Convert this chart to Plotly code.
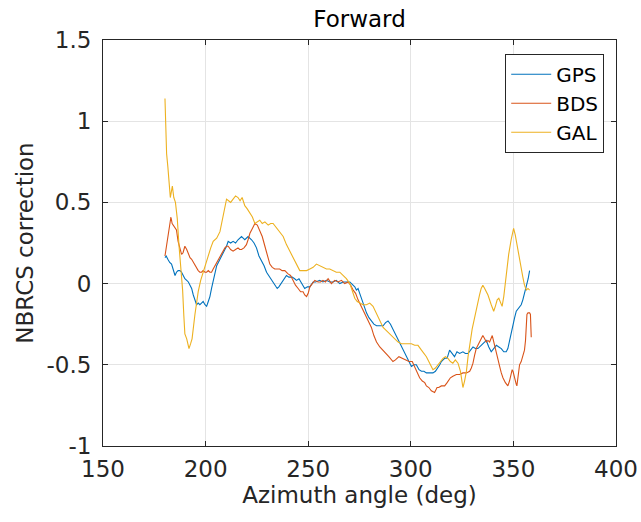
import plotly.graph_objects as go

# ---------------- data ----------------
gps_x = [180.2,180.8,181.6,182.5,183.4,184.2,185.1,185.8,186.6,187.5,188.3,189.1,189.9,190.8,191.6,192.4,193.2,194.0,194.8,195.6,196.4,197.2,198.0,198.8,199.7,200.5,201.3,202.1,202.9,203.7,204.6,205.4,206.2,207.0,208.2,209.4,210.2,211.0,212.2,213.4,214.6,215.8,217.5,218.3,219.1,220.7,221.6,222.4,223.6,224.8,226.0,227.3,228.5,229.7,231.3,232.9,234.1,234.9,235.7,237.3,238.6,239.4,240.6,242.2,243.4,244.3,245.5,246.7,248.3,249.6,250.8,252.4,253.6,255.6,257.2,258.9,260.5,262.1,263.7,265.4,267.0,268.6,270.3,271.1,272.7,273.5,274.3,275.1,275.9,277.2,278.4,279.6,280.8,282.0,283.3,284.9,286.5,287.7,288.9,290.1,291.3,292.2,293.0,294.2,295.4,296.6,297.9,299.1,300.3,301.5,302.7,304.0,305.2,306.4,307.6,309.2,310.8,312.0,313.2,314.1,314.9,316.5,317.7,318.9,320.1,321.3,322.5,323.8,325.4,326.6,327.9,329.1,330.3,331.5,332.7,334.3,335.1,336.0,336.8,338.0,339.2,340.4,341.7,342.9,344.1,345.3,346.5,347.3,348.1,349.0,349.8,350.6,351.4,352.6,353.8,354.6,355.4,356.0,356.6,357.2,357.9]
gps_y = [0.16,0.17,0.15,0.13,0.12,0.09,0.05,0.07,0.08,0.08,0.07,0.05,0.03,0.02,0.01,-0.01,-0.03,-0.07,-0.10,-0.13,-0.12,-0.13,-0.12,-0.11,-0.13,-0.14,-0.11,-0.08,-0.03,0.02,0.07,0.11,0.13,0.15,0.17,0.20,0.23,0.26,0.25,0.26,0.25,0.27,0.29,0.28,0.27,0.29,0.28,0.27,0.25,0.22,0.17,0.14,0.11,0.07,0.04,0.01,-0.02,-0.03,-0.02,0.01,0.04,0.05,0.04,0.04,0.03,0.02,0.03,0.00,-0.03,-0.02,-0.02,0.01,0.01,0.02,0.01,0.02,0.01,0.01,0.02,0.00,0.01,0.01,0.01,0.00,-0.02,-0.04,-0.03,-0.06,-0.09,-0.14,-0.18,-0.21,-0.23,-0.25,-0.26,-0.26,-0.26,-0.24,-0.23,-0.25,-0.28,-0.31,-0.33,-0.36,-0.39,-0.42,-0.45,-0.48,-0.51,-0.50,-0.50,-0.53,-0.54,-0.54,-0.55,-0.55,-0.55,-0.54,-0.52,-0.50,-0.48,-0.46,-0.46,-0.41,-0.43,-0.45,-0.42,-0.43,-0.42,-0.43,-0.43,-0.41,-0.39,-0.40,-0.40,-0.38,-0.37,-0.36,-0.35,-0.39,-0.42,-0.40,-0.38,-0.39,-0.40,-0.42,-0.42,-0.40,-0.35,-0.30,-0.25,-0.21,-0.17,-0.15,-0.13,-0.10,-0.06,-0.04,0.00,0.03,0.08]

bds_x = [180.2,180.6,181.0,181.7,182.3,183.1,183.7,184.2,185.0,185.8,186.6,187.5,188.3,189.0,189.9,190.8,191.6,192.4,193.2,194.0,194.8,195.6,196.4,197.2,198.0,198.8,199.7,200.5,201.3,202.1,202.9,203.7,204.6,205.4,206.6,207.8,208.6,209.4,210.2,211.0,212.2,213.4,214.6,215.8,216.6,217.5,218.7,219.9,220.7,221.6,222.8,224.0,225.2,226.4,227.6,228.9,230.1,231.3,232.5,233.7,234.9,236.1,237.3,238.6,240.2,241.4,242.6,243.8,245.1,246.3,247.5,248.3,249.2,250.0,250.8,252.0,253.2,254.8,256.0,257.2,258.4,259.7,261.3,262.9,264.5,266.2,267.8,269.4,270.7,271.9,273.1,274.3,275.5,276.7,277.6,278.4,279.6,280.8,282.0,283.3,284.9,287.3,289.3,291.3,292.5,294.2,295.8,297.4,299.1,300.7,301.9,303.1,304.3,305.6,306.8,307.6,308.8,310.0,311.6,312.8,313.6,314.9,316.5,317.7,319.3,320.5,322.2,323.8,325.4,327.1,328.7,329.5,330.3,331.1,331.9,332.7,333.5,335.1,336.0,336.8,337.6,338.4,339.7,340.4,341.2,342.1,343.3,344.1,344.9,346.1,347.3,348.1,348.5,349.4,349.8,350.6,351.4,351.7,352.2,353.0,353.8,354.6,355.4,355.9,356.3,356.6,357.1,357.9,358.3,358.7]
bds_y = [0.17,0.20,0.24,0.30,0.35,0.41,0.37,0.36,0.35,0.33,0.26,0.21,0.18,0.19,0.23,0.21,0.18,0.16,0.15,0.13,0.12,0.09,0.08,0.07,0.07,0.08,0.07,0.07,0.08,0.07,0.07,0.09,0.11,0.13,0.16,0.18,0.20,0.22,0.23,0.23,0.21,0.20,0.21,0.22,0.21,0.21,0.22,0.24,0.27,0.31,0.34,0.37,0.36,0.33,0.29,0.23,0.17,0.12,0.10,0.09,0.09,0.09,0.08,0.08,0.06,0.05,0.02,-0.01,-0.03,-0.05,-0.05,-0.07,-0.08,-0.06,-0.02,0.00,0.02,0.01,0.01,0.02,0.01,0.03,0.00,0.02,0.01,0.02,0.00,0.01,-0.01,-0.04,-0.06,-0.10,-0.13,-0.17,-0.19,-0.21,-0.24,-0.27,-0.32,-0.36,-0.39,-0.42,-0.45,-0.48,-0.47,-0.45,-0.46,-0.47,-0.48,-0.48,-0.51,-0.54,-0.58,-0.60,-0.61,-0.63,-0.64,-0.66,-0.67,-0.64,-0.64,-0.63,-0.63,-0.61,-0.58,-0.57,-0.56,-0.56,-0.55,-0.55,-0.54,-0.52,-0.49,-0.44,-0.40,-0.38,-0.36,-0.32,-0.34,-0.36,-0.35,-0.36,-0.32,-0.36,-0.41,-0.45,-0.51,-0.55,-0.58,-0.61,-0.63,-0.60,-0.57,-0.53,-0.54,-0.59,-0.62,-0.63,-0.57,-0.50,-0.48,-0.45,-0.41,-0.35,-0.27,-0.19,-0.18,-0.18,-0.19,-0.33]

gal_x = [180.2,180.6,181.0,181.6,182.3,182.8,183.8,184.5,185.3,186.2,187.0,187.5,188.2,188.8,189.4,189.9,190.8,191.9,192.7,193.4,194.8,195.6,196.4,197.6,198.8,200.0,201.3,202.5,203.7,205.4,207.0,208.0,209.2,210.2,211.2,212.2,213.4,214.6,215.8,216.8,217.8,219.1,220.3,221.6,222.8,224.0,225.2,226.4,227.6,228.9,230.5,231.7,232.9,234.1,235.3,236.5,237.8,239.4,241.0,242.6,244.3,245.9,247.5,249.2,250.8,252.4,254.0,255.6,257.2,258.9,260.5,262.1,263.7,265.4,267.0,268.6,270.3,271.5,272.7,273.9,275.1,276.7,278.4,280.0,281.6,282.8,284.0,285.3,286.5,288.1,289.7,291.0,292.2,293.8,295.4,297.0,298.6,300.3,301.9,303.5,305.2,306.4,307.6,309.2,310.8,312.0,313.2,314.5,315.7,316.9,318.1,319.3,320.5,321.7,323.0,324.2,325.4,326.2,327.1,327.9,328.7,329.9,331.1,332.3,333.5,334.3,335.1,336.0,337.6,339.2,340.4,341.2,342.1,342.9,343.7,344.5,345.3,346.5,347.7,348.9,350.1,350.9,351.7,352.6,353.4,354.6,355.4,356.3,357.1,357.9]
gal_y = [1.14,0.98,0.80,0.72,0.58,0.53,0.60,0.53,0.50,0.40,0.24,0.16,0.05,-0.04,-0.20,-0.31,-0.34,-0.40,-0.37,-0.34,-0.19,-0.10,-0.05,0.02,0.07,0.12,0.18,0.22,0.26,0.28,0.32,0.39,0.47,0.52,0.51,0.50,0.52,0.54,0.53,0.51,0.53,0.48,0.46,0.43,0.41,0.37,0.38,0.39,0.37,0.38,0.36,0.37,0.37,0.35,0.33,0.31,0.29,0.24,0.20,0.16,0.12,0.08,0.08,0.08,0.09,0.10,0.12,0.11,0.10,0.09,0.09,0.08,0.07,0.07,0.05,0.03,0.00,-0.05,-0.09,-0.11,-0.12,-0.13,-0.13,-0.12,-0.14,-0.17,-0.20,-0.24,-0.27,-0.29,-0.31,-0.33,-0.34,-0.36,-0.37,-0.37,-0.37,-0.37,-0.38,-0.38,-0.41,-0.43,-0.45,-0.49,-0.53,-0.52,-0.50,-0.48,-0.46,-0.45,-0.46,-0.48,-0.49,-0.47,-0.49,-0.54,-0.64,-0.60,-0.54,-0.45,-0.37,-0.28,-0.21,-0.13,-0.07,-0.03,-0.01,-0.03,-0.07,-0.13,-0.17,-0.14,-0.10,-0.09,-0.12,-0.14,-0.08,0.06,0.18,0.27,0.34,0.30,0.24,0.17,0.11,0.04,-0.01,-0.04,-0.03,-0.04]

series_names = ["GPS", "BDS", "GAL"]
series_colors = ["#0072BD", "#D95319", "#EDB120"]

x_ticks = [150, 200, 250, 300, 350, 400]
y_ticks = [-1, -0.5, 0, 0.5, 1, 1.5]
y_tick_text = ["-1", "-0.5", "0", "0.5", "1", "1.5"]

title_text = "Forward"
x_title = "Azimuth angle (deg)"
y_title = "NBRCS correction"

# ---------------- figure ----------------
FONT = "DejaVu Sans, Verdana, sans-serif"
TXT = "#262626"
fig = go.Figure()
for name, color, xs, ys in zip(series_names, series_colors,
                               [gps_x, bds_x, gal_x], [gps_y, bds_y, gal_y]):
    fig.add_trace(go.Scatter(x=xs, y=ys, mode="lines", name=name,
                             line=dict(color=color, width=1.1)))

axis_common = dict(
    showgrid=True, gridcolor="#e4e4e4", gridwidth=1,
    showline=True, linecolor=TXT, linewidth=1, mirror="allticks",
    ticks="inside", ticklen=5, tickcolor=TXT, automargin=False,
    zeroline=False, tickfont=dict(family=FONT, size=23, color=TXT),
)

fig.update_xaxes(range=[150, 400], tickvals=x_ticks, ticklabelstandoff=2,
                 title=dict(text=x_title, font=dict(family=FONT, size=23, color=TXT), standoff=4),
                 **axis_common)
fig.update_yaxes(range=[-1, 1.5], tickvals=y_ticks, ticktext=y_tick_text, ticklabelstandoff=6,
                 title=dict(text=y_title, font=dict(family=FONT, size=23, color=TXT), standoff=6),
                 **axis_common)

fig.update_layout(
    width=641, height=522,
    margin=dict(l=103, r=25, t=40, b=76, autoexpand=False),
    paper_bgcolor="white", plot_bgcolor="white",
    title=dict(text=title_text, x=0.5 * (103 + 616) / 641, xanchor="center",
               y=1 - 19 / 522, yanchor="middle",
               font=dict(family=FONT, size=23, color="#000000")),
    legend=dict(x=0.977, y=0.966, xanchor="right", yanchor="top",
                bgcolor="white", bordercolor=TXT, borderwidth=1,
                font=dict(family=FONT, size=20, color="#000000"),
                tracegroupgap=0, itemwidth=40),
    showlegend=True,
)

fig.write_html("out.html")
